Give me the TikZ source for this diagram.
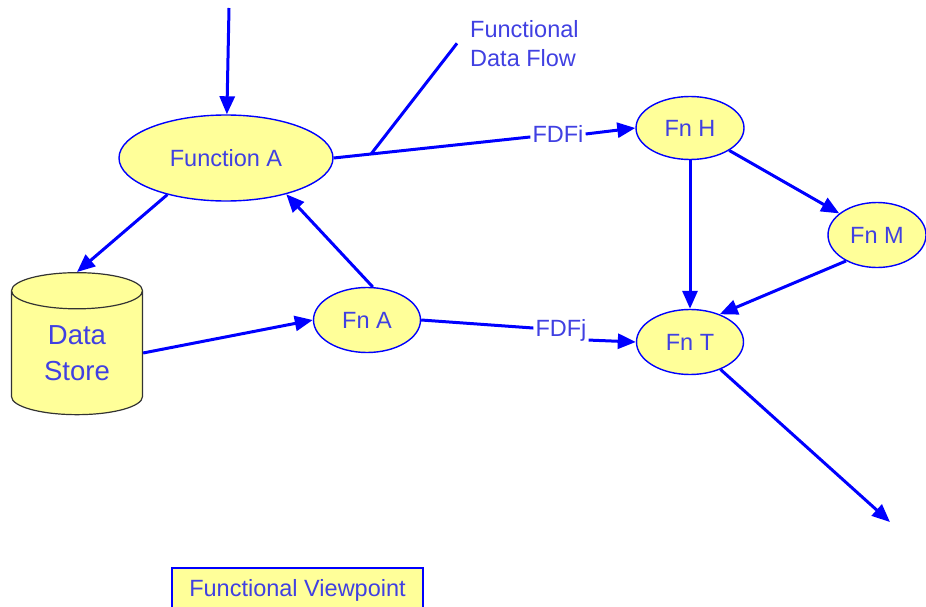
\documentclass[tikz,border=0pt]{standalone}
\usepackage{fontspec}
\setmainfont{Liberation Sans}
\usetikzlibrary{positioning,shapes.geometric,arrows.meta}

\definecolor{lineblue}{RGB}{0,0,255}
\definecolor{textblue}{RGB}{64,64,226}
\definecolor{fnfill}{RGB}{255,255,153}

\begin{document}
\begin{tikzpicture}[x=1pt,y=-1pt,
    fn/.style={ellipse,draw=lineblue,line width=1.4pt,fill=fnfill,inner sep=0pt,
      text=textblue,font=\fontsize{23.5}{29}\selectfont},
    flow/.style={line width=3pt,draw=lineblue},
    fto/.style={flow,-{Triangle[length=18pt,width=15pt]}},
    lbl/.style={text=textblue,font=\fontsize{23.5}{29}\selectfont,inner sep=2pt}]
    \useasboundingbox (0,0) rectangle (926,607);

    \node[fn,minimum width=214pt,minimum height=86pt] (fa) at (226,158) {Function A};
    \node[fn,minimum width=107pt,minimum height=65pt] (fna) at (367,320) {Fn A};
    \node[fn,minimum width=108pt,minimum height=63pt] (fh) at (690,128) {Fn H};
    \node[fn,minimum width=98pt,minimum height=65pt] (fm) at (877,235) {Fn M};
    \node[fn,minimum width=107pt,minimum height=65pt] (ft) at (690,342) {Fn T};
    \node[cylinder,shape border rotate=90,aspect=0.55,draw=black!80,line width=1.2pt,
      fill=fnfill,minimum width=131pt,minimum height=142pt,inner sep=0pt,align=center,
      text=textblue,font=\fontsize{27.5}{36}\selectfont] (store) at (77,353) {Data\\Store};

    \node[lbl] (fdfi) at (558,134) {FDFi};
    \node[lbl] (fdfj) at (561,330) {FDFj};
    \node[lbl,inner sep=0pt,anchor=north west,align=left] (flowlbl) at (470,20) {Functional\\Data Flow};
    \node[lbl,draw=lineblue,line width=2pt,fill=fnfill,anchor=north west,
      minimum width=251pt,minimum height=45pt] (view) at (171,567) {Functional Viewpoint};

    \coordinate (top) at (229,8);
    \coordinate (out) at (890,522);
    \coordinate[left=13pt of flowlbl.west] (callend);

    \draw[fto] (top) -- (fa);
    \draw[fto] (fa.212) -- (store.north);
    \draw[fto] (fna.80) -- (fa.-31);
    \draw[fto] (store.east) -- (fna.west);
    \draw[flow] (fa.east) -- coordinate[pos=0.19] (tap) (fdfi);
    \draw[fto] (fdfi.east) -- (fh.west);
    \draw[flow] (fna.east) -- (fdfj);
    \draw[fto] (fdfj.-20) -- (ft.west);
    \draw[fto] (fh.south) -- (ft.north);
    \draw[fto] (fh) -- (fm);
    \draw[fto] (fm.220) -- (ft.43);
    \draw[fto] (ft) -- (out);
    \draw[flow] (tap) -- (callend);
\end{tikzpicture}
\end{document}
